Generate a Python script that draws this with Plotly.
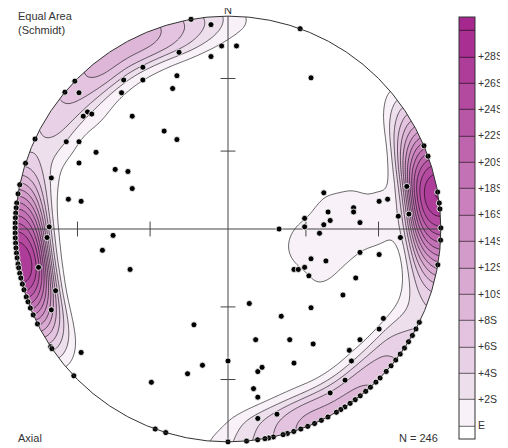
import numpy as np
import plotly.graph_objects as go

# ---- data -----------------------------------------------------------------
# poles inside the net, in net coordinates (east, north); 1 = primitive radius
pole_east = [-0.70, -0.49, -0.40, -0.40, -0.50, -0.66, -0.64, -0.68, -0.45, -0.30, -0.76, -0.70,
             -0.08, -0.03, 0.04, -0.23, -0.08, -0.24, -0.26, 0.39, -0.24,
             -0.62, -0.70, -0.53, -0.47, -0.45, -0.83, -0.75, -0.69, -0.84, -0.85, -0.54, -0.59,
             -0.46, -0.89, -0.81, -0.83, -0.69, -0.36,
             0.45, 0.47, 0.48, 0.36, 0.36, 0.45, 0.43, 0.24, 0.39, 0.46, 0.31, 0.33, 0.36, 0.38,
             0.84, 0.71, 0.75, 0.59, 0.59, 0.80, 0.85, 0.62, 0.81, 0.71, 0.62, 0.60, 0.54,
             0.10, 0.39, 0.25, -0.16, 0.13, 0.29, 0.40, 0.00, -0.12, -0.19, 0.31, 0.14, 0.16,
             0.12, 0.14, 0.14, 0.23, 0.48,
             0.62, 0.57, 0.58, 0.55, 0.73, 0.71]
pole_north = [0.64, 0.70, 0.76, 0.70, 0.64, 0.55, 0.54, 0.53, 0.53, 0.46, 0.41, 0.41,
              0.96, 0.86, 0.86, 0.83, 0.81, 0.72, 0.66, 0.71, 0.42,
              0.36, 0.31, 0.28, 0.27, 0.19, 0.24, 0.14, 0.13, 0.01, -0.04, -0.03, -0.10,
              -0.19, -0.18, -0.29, -0.38, -0.58, -0.72,
              0.17, 0.08, 0.04, 0.05, 0.01, 0.02, -0.02, 0.00, -0.14, -0.15, -0.19, -0.19, -0.18, -0.22,
              0.20, 0.13, 0.14, 0.10, 0.08, 0.06, 0.07, 0.03, -0.04, -0.12, -0.11, -0.23, -0.31,
              -0.35, -0.37, -0.41, -0.45, -0.52, -0.52, -0.54, -0.62, -0.64, -0.68, -0.63, -0.67, -0.65,
              -0.75, -0.79, -0.89, -0.87, -0.77,
              -0.52, -0.57, -0.62, -0.71, -0.42, -0.47]
# number of coincident poles at each of these positions
pole_count = [1] * 12 + [1] * 9 + [1] * 18 + \
             [1, 1, 1, 1, 1, 1, 1, 1, 1, 1, 2, 1, 1, 1] + \
             [1, 2, 1, 2, 2, 1, 1, 1, 1, 1, 1, 1, 1] + [1] * 18 + [1] * 6

# horizontal poles plotted on the primitive: trend (degrees) and number of poles
rim_trend = [279.5, 277.0, 275.7, 274.3, 273.0, 271.6, 270.3, 268.9, 267.6,
             266.2, 264.9, 263.5, 262.2, 260.8, 260.5, 259.5, 258.0, 256.7, 255.0,
             253.4, 251.4, 250.0, 248.2, 246.2, 243.5, 236.4, 235.8, 226.4, 200.0, 197.0,
             282.0, 288.0, 295.0, 310.0, 314.0, 350.0, 19.8,
             67.0, 70.0, 80.0, 83.0, 84.6, 89.7, 93.0, 99.7,
             116.0, 118.0, 120.0, 122.0, 124.0, 126.0, 128.0, 130.0, 132.0, 134.4, 136.0,
             138.0, 139.7, 141.6, 143.3, 145.0, 146.7, 148.0, 149.4, 152.0, 154.0, 156.0,
             158.0, 160.0, 162.0, 163.8, 165.0, 167.7, 169.0, 170.0, 172.0, 175.0, 180.0]
rim_count = [1, 1, 2, 2, 2, 2, 4, 4, 4,
             4, 4, 4, 4, 4, 1, 4, 4, 4, 4,
             4, 4, 3, 3, 3, 3, 1, 1, 1, 1, 1,
             1, 2, 2, 2, 2, 1, 1,
             1, 1, 2, 2, 2, 2, 1, 1,
             1, 1, 1, 1, 1, 1, 1, 1, 1, 1, 1,
             1, 1, 1, 1, 2, 2, 2, 2, 2, 2, 2,
             2, 2, 2, 2, 2, 1, 1, 1, 1, 1, 1]

level_values = list(range(0, 30, 2))
level_labels = ["E"] + ["+%dS" % v for v in level_values[1:]]
KAMB_SIGMA = 3.2
EDGE_SOFTNESS = 2.5  # degrees, soft edge of the counting circle

# ---- Kamb counting (soft counting circle) on the lower hemisphere ----------
def net_to_vec(e, n):
    e = np.asarray(e, float); n = np.asarray(n, float)
    r = np.clip(np.hypot(e, n), 0, 1)
    th = 2 * np.arcsin(r / np.sqrt(2))
    az = np.arctan2(e, n)
    return np.stack([np.sin(th) * np.sin(az), np.sin(th) * np.cos(az), np.cos(th)], -1)

rt = np.radians(rim_trend)
vec_in = net_to_vec(pole_east, pole_north)
vec_rim = np.stack([np.sin(rt), np.cos(rt), np.zeros_like(rt)], -1)
vecs = np.vstack([vec_in, vec_rim])
weights = np.concatenate([np.asarray(pole_count, float), np.asarray(rim_count, float)])
N = int(weights.sum())

area = KAMB_SIGMA ** 2 / (N + KAMB_SIGMA ** 2)
alpha = np.degrees(np.arccos(1 - area))

def kern(c):
    d = np.degrees(np.arccos(np.clip(c, 0, 1)))
    return 1 / (1 + np.exp((d - alpha) / EDGE_SOFTNESS))

u = np.linspace(0, 1, 200001)
wu = kern(u)
expected = N * wu.mean()
sdev = np.sqrt(N * ((wu ** 2).mean() - wu.mean() ** 2))

g = np.linspace(-1.02, 1.02, 241)
GX, GY = np.meshgrid(g, g)
gv = net_to_vec(GX, GY)
cosd = np.abs(np.tensordot(gv, vecs.T, axes=1))
dens = (kern(cosd) * weights).sum(-1)
Z = (dens - expected) / sdev

# ---- colours ---------------------------------------------------------------
light = np.array([240, 229, 240]); dark = np.array([166, 40, 142])
cols = ["rgb(255,255,255)"]
for k in range(15):
    t = k / 14
    c = light + (dark - light) * t
    cols.append("rgb(%d,%d,%d)" % tuple(c.round()))
cscale = [[0, cols[0]]] + [[(1 + 2 * j) / 32, cols[j]] for j in range(16)] + [[1, cols[15]]]

fig = go.Figure()
fig.add_trace(go.Contour(
    x=g, y=g, z=Z, colorscale=cscale,
    contours=dict(start=0, end=30, size=2, coloring="fill", showlines=True),
    line=dict(color="black", width=0.6, smoothing=1),
    hoverinfo="skip",
    colorbar=dict(thickness=16, thicknessmode="pixels", len=422, lenmode="pixels",
                  x=(459 - 13) / 430, xanchor="left", y=(444 - 228) / 430, yanchor="middle",
                  xpad=0, ypad=0, outlinewidth=1, outlinecolor="#333",
                  tickvals=level_values, ticktext=level_labels, ticks="",
                  tickfont=dict(family="Liberation Sans, Arial", size=10.5, color="#333")),
))

# white mask outside the primitive
a = np.linspace(np.pi, 3 * np.pi, 361)
mx = np.concatenate([[-1.1, -1.1, 1.1, 1.1, -1.1, -1.1], np.cos(a), [-1.1]])
my = np.concatenate([[0, 1.1, 1.1, -1.1, -1.1, 0], np.sin(a), [0]])
fig.add_trace(go.Scatter(x=mx, y=my, mode="lines", fill="toself", fillcolor="white",
                         line=dict(width=0, color="white"), hoverinfo="skip", showlegend=False))

# cross and dip ticks
tk = [np.sqrt(2) * np.sin(np.radians(15)), np.sqrt(2) * np.sin(np.radians(30))]
lx, ly = [-1, 1, None, 0, 0, None], [0, 0, None, -1, 1, None]
for s in (-1, 1):
    for r in tk:
        lx += [s * r, s * r, None, -0.035, 0.035, None]
        ly += [-0.035, 0.035, None, s * r, s * r, None]
fig.add_trace(go.Scatter(x=lx, y=ly, mode="lines", line=dict(color="#444", width=1),
                         hoverinfo="skip", showlegend=False))

# poles
px = list(pole_east) + list(np.sin(rt))
py = list(pole_north) + list(np.cos(rt))
fig.add_trace(go.Scatter(x=px, y=py, mode="markers", cliponaxis=False,
                         marker=dict(size=6, color="black", line=dict(color="white", width=0.8)),
                         showlegend=False))

fig.add_shape(type="circle", x0=-1, y0=-1, x1=1, y1=1, line=dict(color="#333", width=1), layer="above")

font = dict(family="Liberation Sans, Arial", size=11, color="#333")
fig.add_annotation(x=(16 - 13) / 430, y=(444 - 8) / 430, xref="paper", yref="paper",
                   text="Equal Area<br>(Schmidt)", showarrow=False, xanchor="left", yanchor="top",
                   align="left", font=font)
fig.add_annotation(x=(16 - 13) / 430, y=(444 - 437.5) / 430, xref="paper", yref="paper",
                   text="Axial", showarrow=False, xanchor="left", yanchor="middle", font=font)
fig.add_annotation(x=(440 - 13) / 430, y=(444 - 437.5) / 430, xref="paper", yref="paper",
                   text="N = %d" % N, showarrow=False, xanchor="right", yanchor="middle", font=font)
fig.add_annotation(x=0.5, y=(444 - 10) / 430, xref="paper", yref="paper",
                   text="N", showarrow=False, xanchor="center", yanchor="middle",
                   font=dict(family="Liberation Sans, Arial", size=11, color="#333"))

# the page body adds an 8 px offset, so margins are taken 8 px smaller at top/left
fig.update_layout(width=508, height=448, margin=dict(l=5, r=73, t=6, b=12, autoexpand=False),
                  plot_bgcolor="white", paper_bgcolor="white", showlegend=False,
                  xaxis=dict(range=[-1.01, 1.01], visible=False, fixedrange=True),
                  yaxis=dict(range=[-1.01, 1.01], visible=False, fixedrange=True))
fig.write_html("out.html")
